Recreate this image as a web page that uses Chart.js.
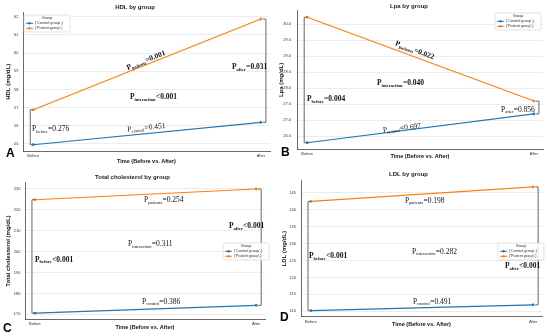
<!DOCTYPE html>
<html lang="en">
<head>
<meta charset="UTF-8">
<title>Lipid profile by group</title>
<script src="https://cdn.jsdelivr.net/npm/chart.js"></script>
<style>
  body { margin: 0; background: #fff; }
  .panels { position: relative; width: 550px; height: 336px; }
  .panels canvas { position: absolute; }
</style>
</head>
<body>
<div class="panels">
  <canvas id="hdlChart" width="275" height="168" style="left:0;top:0"></canvas>
  <canvas id="lpaChart" width="275" height="168" style="left:275px;top:0"></canvas>
  <canvas id="tcChart" width="275" height="168" style="left:0;top:168px"></canvas>
  <canvas id="ldlChart" width="275" height="168" style="left:275px;top:168px"></canvas>
</div>
<script>
const times = ['Before', 'After'];
const groups = ['Control group', 'Patient group'];
const pKeys = ['before', 'after', 'control', 'patients', 'interaction'];

const hdlControl = [54.96, 56.19];
const hdlPatient = [56.88, 61.87];
const hdlTicks = [55, 56, 57, 58, 59, 60, 61, 62];
const hdlP = ['=0.276', '=0.031', '=0.451', '=0.001', '<0.001'];

const lpaControl = [26.30, 27.20];
const lpaPatient = [30.22, 27.60];
const lpaTicks = [26.5, 27.0, 27.5, 28.0, 28.5, 29.0, 29.5, 30.0];
const lpaP = ['=0.004', '=0.856', '=0.697', '=0.022', '=0.040'];

const tcControl = [170.6, 174.3];
const tcPatient = [224.7, 229.8];
const tcTicks = [170, 180, 190, 200, 210, 220, 230];
const tcP = ['<0.001', '<0.001', '=0.386', '=0.254', '=0.311'];

const ldlControl = [110.2, 111.9];
const ldlPatient = [142.5, 146.8];
const ldlTicks = [110, 115, 120, 125, 130, 135, 140, 145];
const ldlP = ['<0.001', '<0.001', '=0.491', '=0.198', '=0.282'];

const BLUE = '#1f77b4';
const ORANGE = '#ff7f0e';
const SANS = '"Liberation Sans", Arial, sans-serif';
const SERIF = '"Liberation Serif", "Times New Roman", serif';

// layout of each panel (pixels inside its 275x168 canvas, note spots in data units)
const panels = [
  {
    id: 'hdlChart', title: 'HDL by group', yTitle: 'HDL (mg/dL)', letter: 'A',
    control: hdlControl, patient: hdlPatient, ticks: hdlTicks, dec: 0, p: hdlP,
    area: { left: 23, top: 12.7, right: 270, bottom: 151 },
    titleY: 7, xTickTop: 153, xTitleY: 161.5, yTickRight: 18.5, yTitleX: 8,
    legend: { x: 24, y: 15 }, letterPos: { x: 6, y: 157 },
    notes: {
      patients: { x: 0.495, y: 59.62, along: 'patient' },
      after: { x: 0.873, y: 59.24 },
      interaction: { x: 0.425, y: 57.6 },
      before: { x: -0.005, y: 55.84 },
      control: { x: 0.497, y: 55.92, along: 'control' }
    }
  },
  {
    id: 'lpaChart', title: 'Lpa by group', yTitle: 'Lpa (mg/dL)', letter: 'B',
    control: lpaControl, patient: lpaPatient, ticks: lpaTicks, dec: 1, p: lpaP,
    area: { left: 22, top: 10.9, right: 268, bottom: 149 },
    titleY: 6, xTickTop: 151, xTitleY: 156.5, yTickRight: 16, yTitleX: 6,
    legend: { x: 220, y: 13 }, letterPos: { x: 6, y: 156 },
    notes: {
      patients: { x: 0.475, y: 29.2, along: 'patient' },
      after: { x: 0.855, y: 27.35 },
      interaction: { x: 0.308, y: 28.17 },
      before: { x: -0.001, y: 27.67 },
      control: { x: 0.418, y: 26.77, along: 'control' }
    }
  },
  {
    id: 'tcChart', title: 'Total cholesterol by group', yTitle: 'Total cholesterol (mg/dL)', letter: 'C',
    control: tcControl, patient: tcPatient, ticks: tcTicks, dec: 0, p: tcP,
    area: { left: 25, top: 14.8, right: 265, bottom: 151.3 },
    titleY: 9, xTickTop: 153, xTitleY: 159.5, yTickRight: 20.5, yTitleX: 8,
    legend: { x: 223, y: 75 }, letterPos: { x: 3, y: 164 },
    notes: {
      patients: { x: 0.493, y: 224.6 },
      after: { x: 0.877, y: 212.2 },
      interaction: { x: 0.421, y: 203.6 },
      before: { x: 0.0, y: 196.4 },
      control: { x: 0.484, y: 176.3 }
    }
  },
  {
    id: 'ldlChart', title: 'LDL by group', yTitle: 'LDL (mg/dL)', letter: 'D',
    control: ldlControl, patient: ldlPatient, ticks: ldlTicks, dec: 0, p: ldlP,
    area: { left: 26, top: 12.7, right: 267, bottom: 148.8 },
    titleY: 6.7, xTickTop: 151, xTitleY: 156.7, yTickRight: 21, yTitleX: 9.3,
    legend: { x: 223, y: 75 }, letterPos: { x: 5, y: 153 },
    notes: {
      patients: { x: 0.423, y: 142.9 },
      after: { x: 0.873, y: 123.4 },
      interaction: { x: 0.455, y: 127.8 },
      before: { x: -0.009, y: 126.4 },
      control: { x: 0.459, y: 113.0 }
    }
  }
];

function drawP(ctx, x, y, sub, rest, bold, align, angle) {
  const w = bold ? 'bold ' : '';
  const big = w + '7.5px ' + SERIF;
  const small = w + '4.5px ' + SERIF;
  ctx.save();
  ctx.translate(x, y);
  ctx.rotate(angle || 0);
  ctx.font = big;
  const wp = ctx.measureText('P').width;
  const wr = ctx.measureText(rest).width;
  ctx.font = small;
  const ws = ctx.measureText(sub).width + 0.3;
  const x0 = align === 'center' ? -(wp + ws + wr) / 2 : 0;
  ctx.fillStyle = '#111';
  ctx.textBaseline = 'alphabetic';
  ctx.textAlign = 'left';
  ctx.font = big;
  ctx.fillText('P', x0, 2.5);
  ctx.font = small;
  ctx.fillText(sub, x0 + wp, 4);
  ctx.font = big;
  ctx.fillText(rest, x0 + wp + ws, 2.5);
  ctx.restore();
}

function bracket(ctx, x, y1, y2, dir) {
  ctx.beginPath();
  ctx.moveTo(x + dir * 3, y1);
  ctx.lineTo(x, y1);
  ctx.lineTo(x, y2);
  ctx.lineTo(x + dir * 3, y2);
  ctx.stroke();
}

const extras = {
  id: 'extras',
  afterDatasetsDraw(chart) {
    const cfg = chart.options.plugins.extras.cfg;
    const ctx = chart.ctx;
    const xs = chart.scales.x, ys = chart.scales.y;
    ctx.save();
    ctx.strokeStyle = '#666';
    ctx.lineWidth = 1;
    bracket(ctx, xs.getPixelForValue(0) - 3, ys.getPixelForValue(cfg.patient[0]), ys.getPixelForValue(cfg.control[0]), 1);
    bracket(ctx, xs.getPixelForValue(1) + 5, ys.getPixelForValue(cfg.patient[1]), ys.getPixelForValue(cfg.control[1]), -1);
    ctx.restore();
  },
  afterDraw(chart) {
    const cfg = chart.options.plugins.extras.cfg;
    const ctx = chart.ctx;
    const xs = chart.scales.x, ys = chart.scales.y;

    // p-value notes
    pKeys.forEach((key, i) => {
      const n = cfg.notes[key];
      const val = cfg.p[i];
      const bold = parseFloat(val.slice(1)) < 0.05;
      let angle = 0;
      if (n.along) {
        const s = n.along === 'patient' ? cfg.patient : cfg.control;
        const dx = xs.getPixelForValue(1) - xs.getPixelForValue(0);
        const dy = ys.getPixelForValue(s[1]) - ys.getPixelForValue(s[0]);
        angle = Math.atan2(dy, dx);
      }
      drawP(ctx, xs.getPixelForValue(n.x), ys.getPixelForValue(n.y), key, val, bold,
        n.along ? 'center' : 'left', angle);
    });

    // legend box
    const L = cfg.legend;
    ctx.save();
    ctx.fillStyle = 'rgba(255,255,255,0.85)';
    ctx.strokeStyle = '#d0d0d0';
    ctx.lineWidth = 0.6;
    ctx.beginPath();
    ctx.roundRect(L.x, L.y, 46, 17, 1.5);
    ctx.fill();
    ctx.stroke();
    ctx.fillStyle = '#333';
    ctx.font = '3.8px ' + SANS;
    ctx.textAlign = 'center';
    ctx.textBaseline = 'middle';
    ctx.fillText('Group', L.x + 23, L.y + 3);
    ctx.textAlign = 'left';
    [BLUE, ORANGE].forEach((c, i) => {
      const yy = L.y + 8.3 + i * 5;
      ctx.strokeStyle = c;
      ctx.lineWidth = 1;
      ctx.beginPath();
      ctx.moveTo(L.x + 2, yy);
      ctx.lineTo(L.x + 9, yy);
      ctx.stroke();
      ctx.fillStyle = c;
      ctx.beginPath();
      ctx.arc(L.x + 5.5, yy, 1.2, 0, Math.PI * 2);
      ctx.fill();
      ctx.fillStyle = '#333';
      ctx.fillText("('" + groups[i] + "',)", L.x + 11, yy);
    });
    ctx.restore();

    // panel letter
    ctx.save();
    ctx.fillStyle = '#000';
    ctx.font = 'bold 12px ' + SANS;
    ctx.textBaseline = 'alphabetic';
    ctx.fillText(cfg.letter, cfg.letterPos.x, cfg.letterPos.y);
    ctx.restore();
  }
};

function pad(span) {
  return span * 0.05;
}

panels.forEach(cfg => {
  const all = cfg.control.concat(cfg.patient);
  const lo = Math.min(...all), hi = Math.max(...all);
  const m = pad(hi - lo);
  const a = cfg.area;
  const tLine = 6 * 1.2;

  new Chart(document.getElementById(cfg.id), {
    type: 'line',
    data: {
      datasets: [
        {
          label: "('" + groups[0] + "',)",
          data: cfg.control.map((v, i) => ({ x: i, y: v })),
          borderColor: BLUE, backgroundColor: BLUE,
          borderWidth: 1.1, pointRadius: 1.4, pointBorderWidth: 0
        },
        {
          label: "('" + groups[1] + "',)",
          data: cfg.patient.map((v, i) => ({ x: i, y: v })),
          borderColor: ORANGE, backgroundColor: ORANGE,
          borderWidth: 1.1, pointRadius: 1.4, pointBorderWidth: 0
        }
      ]
    },
    options: {
      responsive: false,
      animation: false,
      layout: { padding: { top: 0, left: 0, bottom: 0, right: 275 - a.right } },
      plugins: {
        legend: { display: false },
        tooltip: { enabled: false },
        title: {
          display: true,
          text: cfg.title,
          color: '#222',
          font: { family: SANS, size: 6, weight: 'bold', lineHeight: 1.2 },
          padding: { top: cfg.titleY - tLine / 2, bottom: a.top - cfg.titleY - tLine / 2 }
        },
        extras: { cfg: cfg }
      },
      scales: {
        x: {
          type: 'linear',
          min: -0.045,
          max: 1.04,
          afterFit: s => { s.height = 168 - a.bottom; },
          afterBuildTicks: s => { s.ticks = times.map((t, i) => ({ value: i })); },
          grid: { display: false, drawTicks: false },
          border: { display: true, color: '#444', width: 0.8 },
          ticks: {
            color: '#333', padding: cfg.xTickTop - a.bottom,
            font: { family: SANS, size: 4 },
            maxRotation: 0,
            callback: v => times[Math.round(v)]
          },
          title: {
            display: true, text: 'Time (Before vs. After)', color: '#111',
            font: { family: SANS, size: 5.5, weight: 'bold', lineHeight: 1.2 },
            padding: 168 - cfg.xTitleY - 3.3
          }
        },
        y: {
          min: lo - m,
          max: hi + m,
          afterFit: s => { s.width = a.left; },
          afterBuildTicks: s => { s.ticks = cfg.ticks.map(v => ({ value: v })); },
          grid: { color: '#e4e4e4', lineWidth: 0.7, drawTicks: false },
          border: { display: true, color: '#444', width: 0.8 },
          ticks: {
            color: '#333', padding: a.left - cfg.yTickRight,
            font: { family: SANS, size: 4 },
            callback: v => v.toFixed(cfg.dec)
          },
          title: {
            display: true, text: cfg.yTitle, color: '#111',
            font: { family: SANS, size: 6, weight: 'bold', lineHeight: 1.2 },
            padding: cfg.yTitleX - 3.6
          }
        }
      }
    },
    plugins: [extras]
  });
});
</script>
</body>
</html>
